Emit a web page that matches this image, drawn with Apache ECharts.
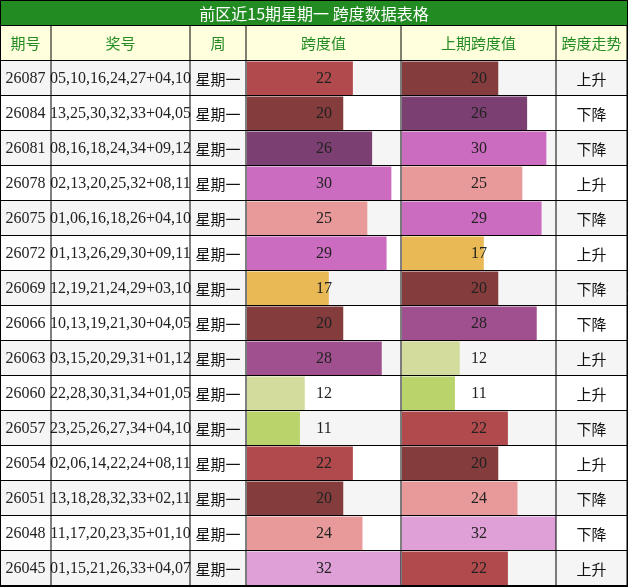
<!DOCTYPE html>
<html><head><meta charset="utf-8">
<script src="https://cdn.jsdelivr.net/npm/echarts@6/dist/echarts.min.js"></script>
<style>html,body{margin:0;padding:0;background:#fff}#c{width:628px;height:587px}</style>
</head><body><div id="c"></div>
<script>
const title = '前区近15期星期一 跨度数据表格';
const headers = ['期号','奖号','周','跨度值','上期跨度值','跨度走势'];
const issues = ['26087','26084','26081','26078','26075','26072','26069','26066','26063','26060','26057','26054','26051','26048','26045'];
const numbers = ['05,10,16,24,27+04,10','13,25,30,32,33+04,05','08,16,18,24,34+09,12','02,13,20,25,32+08,11','01,06,16,18,26+04,10','01,13,26,29,30+09,11','12,19,21,24,29+03,10','10,13,19,21,30+04,05','03,15,20,29,31+01,12','22,28,30,31,34+01,05','23,25,26,27,34+04,10','02,06,14,22,24+08,11','13,18,28,32,33+02,11','11,17,20,23,35+01,10','01,15,21,26,33+04,07'];
const weekday = '星期一';
const span = [22,20,26,30,25,29,17,20,28,12,11,22,20,24,32];
const prevSpan = [20,26,30,25,29,17,20,28,12,11,22,20,24,32,22];
const trend = ['上升','下降','下降','上升','下降','上升','下降','下降','上升','上升','下降','上升','下降','下降','上升'];
const colorMap = {11:'#b8d46a',12:'#d3dc9c',17:'#e8b955',20:'#843c3c',22:'#b04a4c',24:'#e89a9a',25:'#e89a9a',26:'#7b3f72',28:'#a0508f',29:'#cc6cc0',30:'#cc6cc0',32:'#dea0d6'};

const W=628, colX=[0,51,190,246,401,556,627], titleH=26, headTop=26, rowTop=61, rowH=35, N=issues.length;
const serif = '"Liberation Serif","Noto Sans CJK SC",serif';
const sans = '"Noto Sans CJK SC","Noto Sans",sans-serif';
const g = [];
g.push({type:'rect',shape:{x:0,y:0,width:W,height:titleH},style:{fill:'#228b22'},z:0});
g.push({type:'text',x:W/2,y:titleH/2+1,style:{text:title,fill:'#fff',font:'16px '+sans,align:'center',verticalAlign:'middle'},z:20});
g.push({type:'rect',shape:{x:0,y:headTop,width:W,height:rowTop-headTop},style:{fill:'#ffffdd'},z:0});
headers.forEach((h,i)=>g.push({type:'text',x:(colX[i]+colX[i+1])/2,y:(headTop+rowTop)/2,style:{text:h,fill:'#228b22',font:'15px '+sans,align:'center',verticalAlign:'middle'},z:20}));
for(let r=0;r<N;r++){
  const y=rowTop+r*rowH, cy=y+rowH/2;
  g.push({type:'rect',shape:{x:0,y:y,width:W,height:rowH},style:{fill:r%2===0?'#f5f5f5':'#ffffff'},z:0});
  g.push({type:'text',x:(colX[0]+colX[1])/2,y:cy,style:{text:issues[r],fill:'#222',font:'16px '+serif,align:'center',verticalAlign:'middle'},z:20});
  g.push({type:'text',x:(colX[1]+colX[2])/2,y:cy,style:{text:numbers[r],fill:'#222',font:'16px '+serif,align:'center',verticalAlign:'middle'},z:20});
  g.push({type:'text',x:(colX[2]+colX[3])/2,y:cy+1,style:{text:weekday,fill:'#111',font:'15px '+sans,align:'center',verticalAlign:'middle'},z:20});
  g.push({type:'text',x:(colX[5]+colX[6])/2,y:cy+1,style:{text:trend[r],fill:'#111',font:'15px '+sans,align:'center',verticalAlign:'middle'},z:20});
}
// grid lines
const lines=[];
lines.push([0,titleH-0.5,W,titleH-0.5]);
for(let r=0;r<=N;r++){const y=rowTop+r*rowH-0.5;lines.push([0,y,W,y]);}
colX.forEach(x=>{const xx=Math.min(Math.max(x,0.5),W-0.5);lines.push([xx,headTop,xx,587]);});
lines.push([0.5,0,0.5,587]);lines.push([W-0.5,0,W-0.5,587]);lines.push([0,0.5,W,0.5]);lines.push([0,586.5,W,586.5]);
lines.forEach(l=>g.push({type:'line',shape:{x1:l[0],y1:l[1],x2:l[2],y2:l[3]},style:{stroke:'#000',lineWidth:1},z:30}));

const cats = issues;
const maxV = 32;
function grids(i,left,w){return {left:left,top:rowTop,width:w,height:rowH*N};}
const option = {
  animation:false,
  grid:[grids(0,247,154),grids(1,402,154)],
  xAxis:[0,1].map(i=>({type:'value',gridIndex:i,min:0,max:maxV,show:false})),
  yAxis:[0,1].map(i=>({type:'category',gridIndex:i,data:cats,inverse:true,show:false})),
  series:[]
};
[span,prevSpan].forEach((arr,i)=>{
  option.series.push({type:'bar',xAxisIndex:i,yAxisIndex:i,data:arr.map(v=>({value:v,itemStyle:{color:colorMap[v]}})),barWidth:34,z:2,silent:true});
  option.series.push({type:'bar',xAxisIndex:i,yAxisIndex:i,barGap:'-100%',data:arr.map(v=>({value:maxV,label:{formatter:String(v)}})),barWidth:34,z:3,itemStyle:{color:'rgba(0,0,0,0)'},
    label:{show:true,position:'inside',color:'#222',fontFamily:serif,fontSize:16},silent:true});
});
option.graphic = g;
const ch = echarts.init(document.getElementById('c'),null,{renderer:'canvas'});
ch.setOption(option);
</script></body></html>
